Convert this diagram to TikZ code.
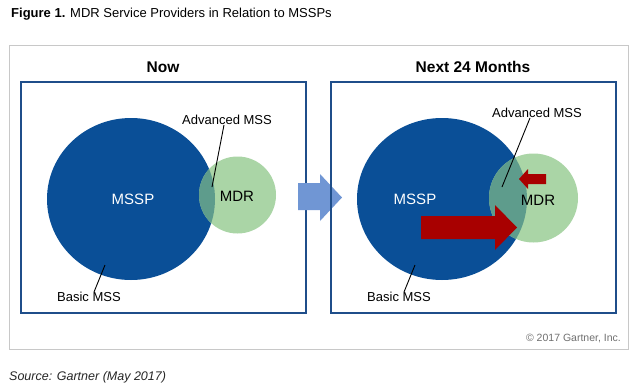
\documentclass[tikz,border=0pt]{standalone}
\usepackage{fontspec}
\setmainfont{Liberation Sans}
\usetikzlibrary{positioning}
\definecolor{msspblue}{HTML}{0A4F97}
\definecolor{mdrgreen}{HTML}{AAD5A6}
\definecolor{overlap}{HTML}{5E9C8C}
\definecolor{boxblue}{HTML}{1F4E8A}
\definecolor{framegray}{HTML}{C8C8C8}
\definecolor{arrowblue}{HTML}{7096D4}
\definecolor{arrowred}{HTML}{A80000}
\definecolor{txtgray}{HTML}{707070}
\tikzset{
  panel/.style={draw=boxblue, line width=2pt},
  paneltitle/.style={font=\fontsize{15.5}{18}\selectfont\bfseries, text=black, inner sep=0pt},
  bigtxt/.style={font=\fontsize{15}{18}\selectfont, inner sep=0pt},
  smalltxt/.style={font=\fontsize{13}{15}\selectfont, text=black, inner sep=0pt},
  leader/.style={draw=black, line width=0.9pt},
}
\begin{document}
\begin{tikzpicture}[x=1pt,y=-1pt]
\useasboundingbox (0,0) rectangle (640,386);
\fill[white] (0,0) rectangle (640,386);
% caption
\node[anchor=west, inner sep=0pt, font=\fontsize{13}{15}\selectfont] (cap) at (11,14) {\textbf{Figure 1.} MDR Service Providers in Relation to MSSPs};
% outer frame
\draw[framegray, line width=1pt] (9,45) rectangle (628,349);
% titles
\node[paneltitle] (now) at (163,67) {Now};
\node[paneltitle] (next) at (473,67) {Next 24 Months};
% ---------- left panel ----------
\draw[panel] (21,82) rectangle (306,313);
\fill[msspblue] (131,199) ellipse [x radius=84, y radius=81];
\fill[mdrgreen] (237.5,195) circle [radius=38.5];
\begin{scope}
  \clip (237.5,195) circle [radius=38.5];
  \fill[overlap] (131,199) ellipse [x radius=84, y radius=81];
\end{scope}
\node[bigtxt, text=white] (msspL) at (133,199) {MSSP};
\node[bigtxt, text=black] (mdrL) at (237,196) {MDR};
\node[smalltxt] (advL) at (227,120) {Advanced MSS};
\node[smalltxt] (basL) at (89,297) {Basic MSS};
\coordinate (advLend) at (212,187);
\coordinate (basLend) at (105,265);
\draw[leader] (advL.south -| 224,0) -- (advLend);
\draw[leader] (basL.north -| 94,0) -- (basLend);
% ---------- middle arrow ----------
\fill[arrowblue] (298,183) -- (320,183) -- (320,174) -- (342,197.5) -- (320,221) -- (320,210) -- (298,210) -- cycle;
% ---------- right panel ----------
\draw[panel] (331,82) rectangle (616,313);
\fill[msspblue] (442,199) ellipse [x radius=85, y radius=81];
\fill[mdrgreen] (533.5,198) circle [radius=44.5];
\begin{scope}
  \clip (533.5,198) circle [radius=44.5];
  \fill[overlap] (442,199) ellipse [x radius=85, y radius=81];
\end{scope}
\node[bigtxt, text=white] (msspR) at (415,199) {MSSP};
\node[bigtxt, text=black] (mdrR) at (538,200) {MDR};
\node[smalltxt] (advR) at (537,113) {Advanced MSS};
\node[smalltxt] (basR) at (399,297) {Basic MSS};
\coordinate (advRend) at (502,187);
\coordinate (basRend) at (415,265);
\draw[leader] (advR.south -| 530,0) -- (advRend);
\draw[leader] (basR.north -| 404,0) -- (basRend);
% red arrows
\fill[arrowred] (421,216) -- (495,216) -- (495,205) -- (517,227.5) -- (495,250) -- (495,239) -- (421,239) -- cycle;
\fill[arrowred] (546,174) -- (528,174) -- (528,169) -- (519,179) -- (528,189) -- (528,184) -- (546,184) -- cycle;
% footer texts
\node[anchor=east, inner sep=0pt, text=txtgray, font=\fontsize{10.5}{12}\selectfont] (copy) at (621,338) {© 2017 Gartner, Inc.};
\node[anchor=west, inner sep=0pt, text=black!85, font=\fontsize{12.5}{14}\selectfont\itshape] (src) at (9,377) {Source: Gartner (May 2017)};
\end{tikzpicture}
\end{document}
